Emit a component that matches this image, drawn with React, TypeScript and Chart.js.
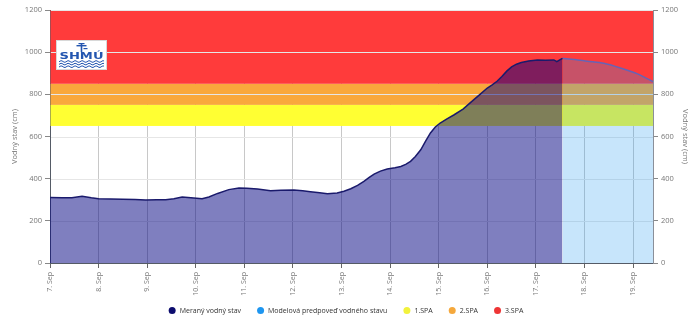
import React, { useEffect, useRef } from "react";
import { Chart, registerables } from "chart.js";

Chart.register(...registerables);

// ---- data ----
const START_DAY = 7; // 7. Sep
const X_MAX = 12.41; // days after 7. Sep 00:00
const DAY_TICKS = [0, 1, 2, 3, 4, 5, 6, 7, 8, 9, 10, 11, 12];
const Y_TICKS = [0, 200, 400, 600, 800, 1000, 1200];

const MEASURED_DAYS = [
  0.0, 0.25, 0.45, 0.66, 0.85, 1.0, 1.25, 1.49, 1.75, 1.97, 2.2, 2.38, 2.55, 2.72, 2.9, 3.13, 3.27, 3.45,
  3.68, 3.89, 4.05, 4.27, 4.54, 4.75, 5.02, 5.2, 5.36, 5.55, 5.71, 5.91, 6.05, 6.19, 6.33, 6.46, 6.57,
  6.67, 6.8, 6.94, 7.1, 7.22, 7.32, 7.42, 7.52, 7.63, 7.73, 7.83, 7.93, 8.03, 8.17, 8.31, 8.5, 8.7, 8.85,
  9.0, 9.1, 9.2, 9.3, 9.4, 9.5, 9.6, 9.7, 9.85, 10.03, 10.2, 10.37, 10.43, 10.5, 10.546,
];
const MEASURED_LEVELS = [
  311, 309, 310, 316, 309, 305, 303, 302, 301, 299, 300, 300, 305, 313, 309, 305, 313, 330,
  348, 356, 355, 351, 343, 345, 346, 343, 338, 333, 329, 332, 340, 352, 368, 387, 406,
  422, 436, 446, 452, 458, 468, 482, 505, 537, 578, 617, 645, 664, 684, 702, 730, 770, 800,
  830, 845, 862, 885, 910, 930, 943, 951, 958, 963, 962, 963, 955, 965, 971,
];

const FORECAST_DAYS = [10.546, 10.8, 11.06, 11.4, 11.75, 12.09, 12.41];
const FORECAST_LEVELS = [971, 965, 957, 947, 924, 897, 860];

// flood warning levels (SPA) and the band tops
const SPA_NAMES = ["1.SPA", "2.SPA", "3.SPA"];
const SPA_FROM = [650, 750, 850];
const SPA_TO = [750, 850, 1200];
const SPA_COLORS = ["#ffff33", "#f9a83c", "#ff3b3b"];

const LEGEND_TEXTS = ["Meraný vodný stav", "Modelová predpoveď vodného stavu", ...SPA_NAMES];
const LEGEND_COLORS = ["#0c0c6e", "#1e96f0", "#f2f23c", "#f5a83c", "#ee3535"];

const FONT = "'Open Sans', 'DejaVu Sans', sans-serif";

const bandsPlugin = {
  id: "spaBands",
  beforeDatasetsDraw(chart: any) {
    const { ctx, chartArea: a, scales } = chart;
    const y = scales.y;
    ctx.save();
    for (let i = 0; i < SPA_FROM.length; i++) {
      const top = y.getPixelForValue(SPA_TO[i]);
      const bottom = y.getPixelForValue(SPA_FROM[i]);
      ctx.fillStyle = SPA_COLORS[i];
      ctx.fillRect(a.left + 0.5, top, a.right - a.left - 0.5, bottom - top);
    }
    ctx.strokeStyle = "#e6e6e6";
    ctx.lineWidth = 1;
    for (const t of Y_TICKS) {
      if (t === 0) continue;
      const py = Math.round(y.getPixelForValue(t)) + 0.5;
      ctx.beginPath();
      ctx.moveTo(a.left + 1, py);
      ctx.lineTo(a.right, py);
      ctx.stroke();
    }
    ctx.restore();
  },
};

const logoPlugin = {
  id: "logo",
  afterDraw(chart: any) {
    const { ctx, chartArea: a } = chart;
    const x = a.left + 6;
    const y0 = a.top + 30;
    const w = 51;
    const h = 30;
    ctx.save();
    ctx.fillStyle = "#ffffff";
    ctx.fillRect(x, y0, w, h);
    ctx.strokeStyle = "#d8d8d8";
    ctx.lineWidth = 1;
    ctx.strokeRect(x + 0.5, y0 + 0.5, w - 1, h - 1);
    const blue = "#2456b0";
    ctx.fillStyle = blue;
    ctx.strokeStyle = blue;
    const cx = x + w / 2;
    ctx.fillRect(cx - 0.8, y0 + 3, 1.6, 9);
    ctx.fillRect(cx - 5, y0 + 5, 10, 1.4);
    ctx.fillRect(cx - 3, y0 + 3, 6, 1.2);
    ctx.fillRect(cx + 2, y0 + 8, 4, 1.2);
    ctx.font = "bold 9px 'DejaVu Sans', sans-serif";
    ctx.textAlign = "center";
    ctx.textBaseline = "alphabetic";
    const tw = ctx.measureText("SHMÚ").width;
    const sx = 44 / tw;
    ctx.save();
    ctx.translate(cx, y0 + 19);
    ctx.scale(sx, 1);
    ctx.fillText("SHMÚ", 0, 0);
    ctx.restore();
    ctx.lineWidth = 1;
    for (let r = 0; r < 3; r++) {
      const wy = y0 + 21.5 + r * 2.6;
      ctx.beginPath();
      for (let px = x + 3; px <= x + w - 3; px += 1) {
        const v = wy + Math.sin((px - x) * 0.9) * 0.8;
        if (px === x + 3) ctx.moveTo(px, v);
        else ctx.lineTo(px, v);
      }
      ctx.stroke();
    }
    ctx.restore();
  },
};

const legendPlugin = {
  id: "bottomLegend",
  afterDraw(chart: any) {
    const { ctx } = chart;
    const cy = 310.5;
    const r = 3.5;
    const gap = 4;
    const spacing = 16;
    ctx.save();
    ctx.font = `7px ${FONT}`;
    ctx.textBaseline = "middle";
    ctx.textAlign = "left";
    const widths = LEGEND_TEXTS.map((t) => r * 2 + gap + ctx.measureText(t).width);
    const total = widths.reduce((s, w) => s + w, 0) + spacing * (widths.length - 1);
    let x = 346 - total / 2;
    LEGEND_TEXTS.forEach((t, i) => {
      ctx.fillStyle = LEGEND_COLORS[i];
      ctx.beginPath();
      ctx.arc(x + r, cy, r, 0, Math.PI * 2);
      ctx.fill();
      ctx.fillStyle = "#333333";
      ctx.fillText(t, x + r * 2 + gap, cy + 0.5);
      x += widths[i] + spacing;
    });
    ctx.restore();
  },
};

export default function App() {
  const ref = useRef<HTMLCanvasElement | null>(null);

  useEffect(() => {
    if (!ref.current) return;
    const measured = MEASURED_DAYS.map((d, i) => ({ x: d, y: MEASURED_LEVELS[i] }));
    const forecast = FORECAST_DAYS.map((d, i) => ({ x: d, y: FORECAST_LEVELS[i] }));

    const yTickFont = { family: FONT, size: 7.5 };

    const chart = new Chart(ref.current, {
      type: "line",
      data: {
        datasets: [
          {
            label: LEGEND_TEXTS[0],
            data: measured,
            borderColor: "#1a1a6c",
            borderWidth: 1.5,
            backgroundColor: "rgba(0,0,128,0.5)",
            fill: "origin",
            pointRadius: 0,
            tension: 0,
            yAxisID: "y",
          },
          {
            label: LEGEND_TEXTS[1],
            data: forecast,
            borderColor: "rgba(80,105,200,0.85)",
            borderWidth: 1.5,
            backgroundColor: "rgba(30,150,240,0.25)",
            fill: "origin",
            pointRadius: 0,
            tension: 0.3,
            yAxisID: "y",
          },
        ],
      },
      options: {
        animation: false,
        responsive: false,
        maintainAspectRatio: false,
        layout: { padding: { top: 10, left: 0, right: 0, bottom: 25 } },
        plugins: {
          tooltip: { enabled: false },
          legend: { display: false },
        },
        scales: {
          x: {
            type: "linear",
            min: 0,
            max: X_MAX,
            afterBuildTicks: (s: any) => {
              s.ticks = DAY_TICKS.map((v) => ({ value: v }));
            },
            afterFit: (s: any) => {
              s.height = 35;
            },
            ticks: {
              autoSkip: false,
              includeBounds: false,
              minRotation: 90,
              maxRotation: 90,
              padding: 4,
              color: "#777777",
              font: { family: FONT, size: 7 },
              callback: (v: any) => `${START_DAY + Number(v)}. Sep`,
            },
            grid: {
              color: "#c8c8c8",
              tickColor: "#666666",
              tickLength: 5,
              lineWidth: 1,
            },
            border: { color: "#555b66", width: 1 },
          },
          y: {
            position: "left",
            min: 0,
            max: 1200,
            afterBuildTicks: (s: any) => {
              s.ticks = Y_TICKS.map((v) => ({ value: v }));
            },
            afterFit: (s: any) => {
              s.width = 50;
            },
            ticks: {
              padding: 3,
              color: "#777777",
              font: yTickFont,
              callback: (v: any) => String(v),
            },
            grid: { drawOnChartArea: false, tickLength: 5, tickColor: "#888888" },
            border: { color: "#555b66", width: 1 },
            title: {
              display: true,
              text: "Vodný stav (cm)",
              color: "#777777",
              font: yTickFont,
              padding: { top: 10, bottom: 4 },
            },
          },
          y2: {
            position: "right",
            min: 0,
            max: 1200,
            afterBuildTicks: (s: any) => {
              s.ticks = Y_TICKS.map((v) => ({ value: v }));
            },
            afterFit: (s: any) => {
              s.width = 47;
            },
            ticks: {
              padding: 3,
              color: "#777777",
              font: yTickFont,
              callback: (v: any) => String(v),
            },
            grid: { drawOnChartArea: false, tickLength: 5, tickColor: "#888888" },
            border: { color: "#8a8f99", width: 1 },
            title: {
              display: true,
              text: "Vodný stav (cm)",
              color: "#777777",
              font: yTickFont,
              padding: { top: 10, bottom: 4 },
            },
          },
        },
      } as any,
      plugins: [bandsPlugin, logoPlugin, legendPlugin],
    });
    return () => chart.destroy();
  }, []);

  return (
    <canvas
      ref={ref}
      width={700}
      height={323}
      style={{ position: "absolute", left: 0, top: 0, width: 700, height: 323, display: "block" }}
    />
  );
}
